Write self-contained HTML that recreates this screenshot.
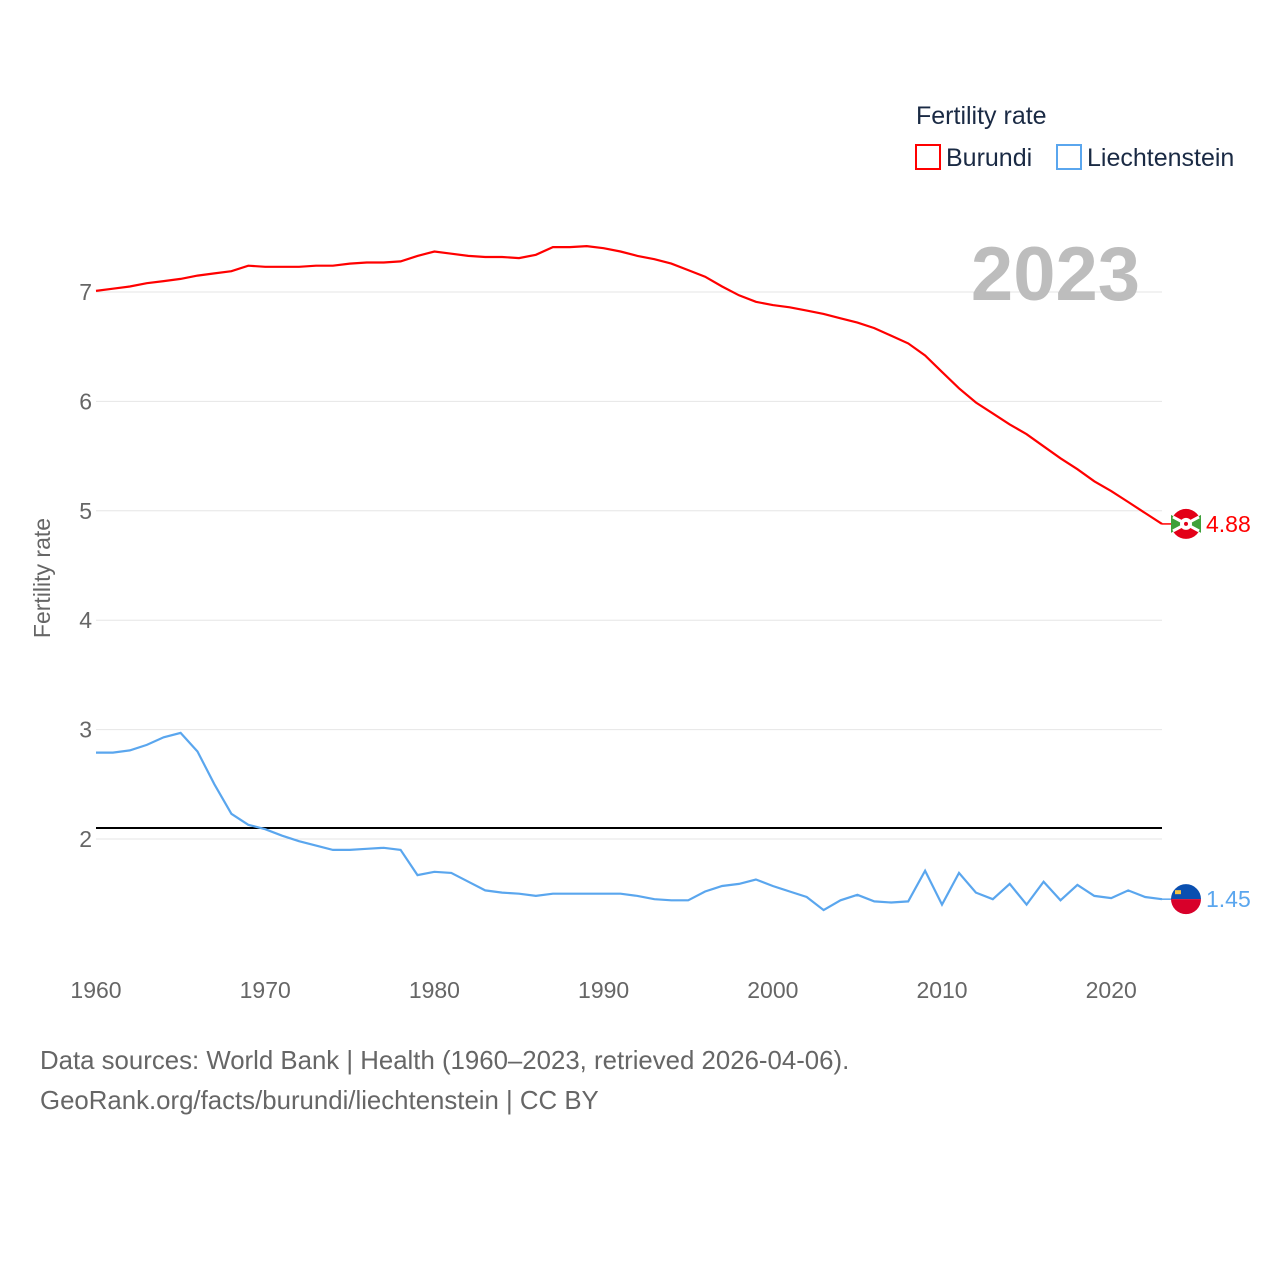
<!DOCTYPE html>
<html><head><meta charset="utf-8"><style>
body{margin:0;background:#fff;font-family:"Liberation Sans",sans-serif}
svg text{font-family:"Liberation Sans",sans-serif}
</style></head><body>
<svg id="chart" width="1280" height="1280" viewBox="0 0 1280 1280" xmlns="http://www.w3.org/2000/svg">
<rect width="1280" height="1280" fill="#fff"/>
<g id="grid"></g><g id="ylabels"></g><g id="xlabels"></g>
<line id="refline" x1="96" x2="1162" stroke="#000" stroke-width="2"/>
<path id="bur" fill="none" stroke="#ff0000" stroke-width="2.2"/>
<path id="lie" fill="none" stroke="#5aa6ee" stroke-width="2.2"/>
<text x="1140" y="300" text-anchor="end" font-size="76" font-weight="bold" fill="#bdbdbd">2023</text>
<text transform="translate(50,578) rotate(-90)" text-anchor="middle" font-size="23" fill="#666">Fertility rate</text>
<g>
<text x="916" y="124" font-size="25" fill="#1a2a44">Fertility rate</text>
<rect x="916" y="145" width="24" height="24" fill="none" stroke="#ff0000" stroke-width="2"/>
<text x="946" y="166" font-size="25" fill="#1a2a44">Burundi</text>
<rect x="1057" y="145" width="24" height="24" fill="none" stroke="#5aa6ee" stroke-width="2"/>
<text x="1087" y="166" font-size="25" fill="#1a2a44">Liechtenstein</text>
</g>
<g id="ends"></g>
<text x="40" y="1069" font-size="25.8" fill="#666">Data sources: World Bank | Health (1960–2023, retrieved 2026-04-06).</text>
<text x="40" y="1109" font-size="25.8" fill="#666">GeoRank.org/facts/burundi/liechtenstein | CC BY</text>
</svg>
<script>
const years=[];for(let y=1960;y<=2023;y++)years.push(y);
const burundi=[7.01,7.03,7.05,7.08,7.10,7.12,7.15,7.17,7.19,7.24,7.23,7.23,7.23,7.24,7.24,7.26,7.27,7.27,7.28,7.33,7.37,7.35,7.33,7.32,7.32,7.31,7.34,7.41,7.41,7.42,7.40,7.37,7.33,7.30,7.26,7.20,7.14,7.05,6.97,6.91,6.88,6.86,6.83,6.80,6.76,6.72,6.67,6.60,6.53,6.42,6.27,6.12,5.99,5.89,5.79,5.70,5.59,5.48,5.38,5.27,5.18,5.08,4.98,4.88];
const liechtenstein=[2.79,2.79,2.81,2.86,2.93,2.97,2.80,2.50,2.23,2.13,2.09,2.03,1.98,1.94,1.90,1.90,1.91,1.92,1.90,1.67,1.70,1.69,1.61,1.53,1.51,1.50,1.48,1.50,1.50,1.50,1.50,1.50,1.48,1.45,1.44,1.44,1.52,1.57,1.59,1.63,1.57,1.52,1.47,1.35,1.44,1.49,1.43,1.42,1.43,1.71,1.40,1.69,1.51,1.45,1.59,1.40,1.61,1.44,1.58,1.48,1.46,1.53,1.47,1.45];
const yTicks=[2,3,4,5,6,7];
const xTicks=[1960,1970,1980,1990,2000,2010,2020];
const refValue=2.1;
const NS="http://www.w3.org/2000/svg";
const sx=y=>96+(y-1960)*(1162-96)/63;
const sy=v=>839-(v-2)*109.4;
const mk=(t,a,p)=>{const e=document.createElementNS(NS,t);for(const k in a)e.setAttribute(k,a[k]);p.appendChild(e);return e;};
const grid=document.getElementById('grid'),yl=document.getElementById('ylabels'),xl=document.getElementById('xlabels');
yTicks.forEach(v=>{
 const l=mk('line',{x1:96,x2:1162,y1:sy(v),y2:sy(v),stroke:'#e6e6e6','stroke-width':1},grid);
 
 
 const t=mk('text',{x:92,y:sy(v)+8,'text-anchor':'end','font-size':23,fill:'#666'},yl);t.textContent=v;
 
 
});
xTicks.forEach(y=>{
 const t=mk('text',{x:sx(y),y:998,'text-anchor':'middle','font-size':23,fill:'#666'},xl);t.textContent=y;
 
 
});
const r=document.getElementById('refline');r.setAttribute('y1',sy(refValue));r.setAttribute('y2',sy(refValue));
const path=a=>a.map((v,i)=>(i?'L':'M')+sx(years[i]).toFixed(1)+','+sy(v).toFixed(1)).join('');
document.getElementById('bur').setAttribute('d',path(burundi));
document.getElementById('lie').setAttribute('d',path(liechtenstein));
const ends=document.getElementById('ends');
function endLabel(v,color,name,flag){
 const y=sy(v),cx=1186;
 mk('line',{x1:1162,x2:cx-14,y1:y,y2:y,stroke:color,'stroke-width':1.5},ends);
 const g=mk('g',{},ends);
 
 
 if(flag==='lie'){
  mk('path',{d:`M${cx-15},${y} a15,15 0 0 1 30,0 z`,fill:'#0a4fb0'},g);
  mk('path',{d:`M${cx-15},${y} a15,15 0 0 0 30,0 z`,fill:'#d8002a'},g);
  mk('rect',{x:cx-11,y:y-9,width:6,height:4,fill:'#f5c242'},g);
 }else{
  mk('circle',{cx:cx,cy:y,r:15,fill:'#e30018'},g);
  mk('path',{d:`M${cx-15},${y-9} L${cx},${y} L${cx-15},${y+9} Z M${cx+15},${y-9} L${cx},${y} L${cx+15},${y+9} Z`,fill:'#3fa13a'},g);
  mk('path',{d:`M${cx-13},${y-7} L${cx+13},${y+7} M${cx+13},${y-7} L${cx-13},${y+7}`,stroke:'#fff','stroke-width':3},g);
  mk('circle',{cx:cx,cy:y,r:6,fill:'#fff'},g);
  mk('circle',{cx:cx,cy:y,r:2,fill:'#e30018'},g);
 }
 const t=mk('text',{x:1206,y:y+8,'font-size':23,fill:color},ends);t.textContent=v.toFixed(2);
 
 
}
endLabel(burundi[burundi.length-1],'#ff0000','burundi','bur');
endLabel(liechtenstein[liechtenstein.length-1],'#5aa6ee','liechtenstein','lie');
</script>
</body></html>
